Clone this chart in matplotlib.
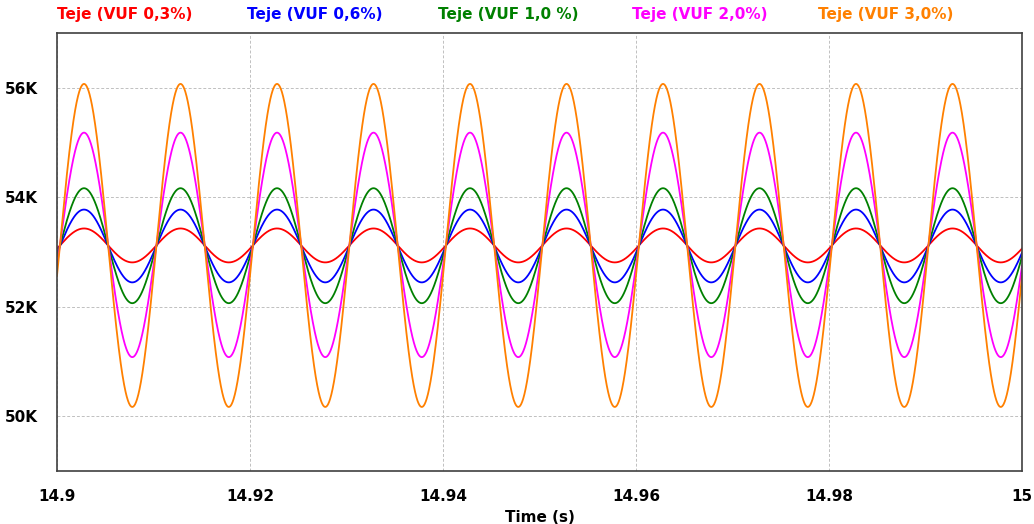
import numpy as np
import matplotlib
matplotlib.use("Agg")
import matplotlib.pyplot as plt

# series (torque waves at 100 Hz)
labels = ["Teje (VUF 0,3%)", "Teje (VUF 0,6%)", "Teje (VUF 1,0 %)", "Teje (VUF 2,0%)", "Teje (VUF 3,0%)"]
colors = ["#ff0000", "#0000ff", "#008000", "#ff00ff", "#ff8000"]
mean_val = [53120, 53110, 53115, 53130, 53120]
amplitude = [310, 665, 1050, 2050, 2950]
freq_hz = 100.0
t_cross = 14.9003  # upward zero crossing of the ripple

xticks = [14.9, 14.92, 14.94, 14.96, 14.98, 15.0]
xtick_labels = ["14.9", "14.92", "14.94", "14.96", "14.98", "15"]
yticks = [50000, 52000, 54000, 56000]
ytick_labels = ["50K", "52K", "54K", "56K"]

t = np.linspace(14.9, 15.0, 4000)

fig = plt.figure(figsize=(10.34, 5.24), dpi=100)
ax = fig.add_axes([57 / 1034, 1 - 471 / 524, (1022 - 57) / 1034, (471 - 33) / 524])

for m, a, c in zip(mean_val, amplitude, colors):
    y = m + a * np.sin(2 * np.pi * freq_hz * (t - t_cross))
    ax.plot(t, y, color=c, lw=1.3)

ax.set_xlim(14.9, 15.0)
ax.set_ylim(49000, 57000)
ax.set_xticks(xticks)
ax.set_xticklabels(xtick_labels)
ax.set_yticks(yticks)
ax.set_yticklabels(ytick_labels)
ax.tick_params(length=0, labelsize=11, pad=13)
for lab in ax.get_xticklabels() + ax.get_yticklabels():
    lab.set_fontweight("bold")
ax.tick_params(axis="y", pad=14)
ax.grid(True, color="#c0c0c0", linestyle=(0, (3, 2)), linewidth=0.7)
for s in ax.spines.values():
    s.set_color("#404040")
    s.set_linewidth(1.2)
ax.set_xlabel("Time (s)", fontsize=11, fontweight="bold", labelpad=4)

# coloured series names across the top
x_pos = [57, 247, 438, 632, 818]
for x, lab, c in zip(x_pos, labels, colors):
    fig.text(x / 1034, 1 - 14 / 524, lab, color=c, fontsize=11, fontweight="bold",
             ha="left", va="center")

fig.savefig("out.png", dpi=100)
